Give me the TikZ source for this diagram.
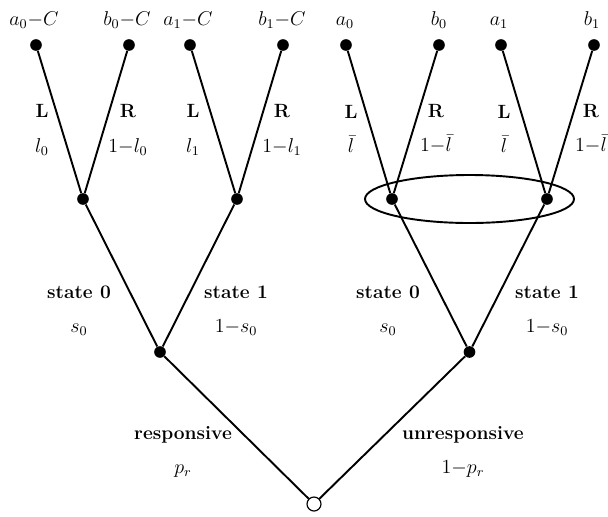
\documentclass[tikz,border=0pt]{standalone}
\usepackage{amsmath}
\usetikzlibrary{calc}
\tikzset{
  dot/.style={circle,fill=black,inner sep=0pt,minimum size=7pt},
  chance/.style={circle,draw,fill=white,line width=0.7pt,inner sep=0pt,minimum size=8.4pt},
  branch/.style={line width=1.15pt},
  blab/.style={align=center,font=\fontsize{11.5}{20.5}\selectfont,inner sep=0pt},
  payoff/.style={anchor=base,font=\fontsize{11.5}{13}\selectfont,inner sep=0pt}
}

\begin{document}
\begin{tikzpicture}[x=0.6pt,y=-0.6pt]
\useasboundingbox (0,0) rectangle (608,516);
% nature, responsiveness, states
\node[chance] (root) at (314,504) {};
\node[dot] (r) at (160,352) {};
\node[dot] (u) at (469.5,352) {};
\node[dot] (r0) at (83,199) {};
\node[dot] (r1) at (237,199) {};
\node[dot] (u0) at (392,199) {};
\node[dot] (u1) at (547,199) {};
% terminal nodes
\node[dot] (r0a) at (36,45) {};  \node[dot] (r0b) at (129,45) {};
\node[dot] (r1a) at (190,45) {}; \node[dot] (r1b) at (283,45) {};
\node[dot] (u0a) at (346,45) {}; \node[dot] (u0b) at (439,45) {};
\node[dot] (u1a) at (501,45) {}; \node[dot] (u1b) at (594,45) {};
\foreach \a/\b in {root/r,root/u,r/r0,r/r1,u/u0,u/u1,
  r0/r0a,r0/r0b,r1/r1a,r1/r1b,u0/u0a,u0/u0b,u1/u1a,u1/u1b}
  \draw[branch] (\a) -- (\b);
% information set
\draw[line width=1.15pt] ($(u0)!0.5!(u1)$) ellipse [x radius=104.5, y radius=24];
% payoffs
\node[payoff] (p1) at (34,25) {$a_0{-}C$};
\node[payoff] (p2) at (127,25) {$b_0{-}C$};
\node[payoff] (p3) at (188,25) {$a_1{-}C$};
\node[payoff] (p4) at (282,25) {$b_1{-}C$};
\node[payoff] (p5) at (345,25) {$a_0$};
\node[payoff] (p6) at (439,25) {$b_0$};
\node[payoff] (p7) at (499,25) {$a_1$};
\node[payoff] (p8) at (592,25) {$b_1$};
% branch labels
\node[blab] (l1) at (42,130) {\textbf{L}\\$l_0$};
\node[blab] (l2) at (128,130) {\textbf{R}\\$1{-}l_0$};
\node[blab] (l3) at (193,130) {\textbf{L}\\$l_1$};
\node[blab] (l4) at (282,130) {\textbf{R}\\$1{-}l_1$};
\node[blab] (l5) at (351,129) {\textbf{L}\\$\bar{l}$};
\node[blab] (l6) at (436,129) {\textbf{R}\\$1{-}\bar{l}$};
\node[blab] (l7) at (504,129) {\textbf{L}\\$\bar{l}$};
\node[blab] (l8) at (591,129) {\textbf{R}\\$1{-}\bar{l}$};
\node[blab] (s1) at (79,311) {\textbf{state 0}\\$s_0$};
\node[blab] (s2) at (236,311) {\textbf{state 1}\\$1{-}s_0$};
\node[blab] (s3) at (388,311) {\textbf{state 0}\\$s_0$};
\node[blab] (s4) at (547,311) {\textbf{state 1}\\$1{-}s_0$};
\node[blab] (q1) at (183,452) {\textbf{responsive}\\$p_r$};
\node[blab] (q2) at (463,452) {\textbf{unresponsive}\\$1{-}p_r$};
\end{tikzpicture}
\end{document}
